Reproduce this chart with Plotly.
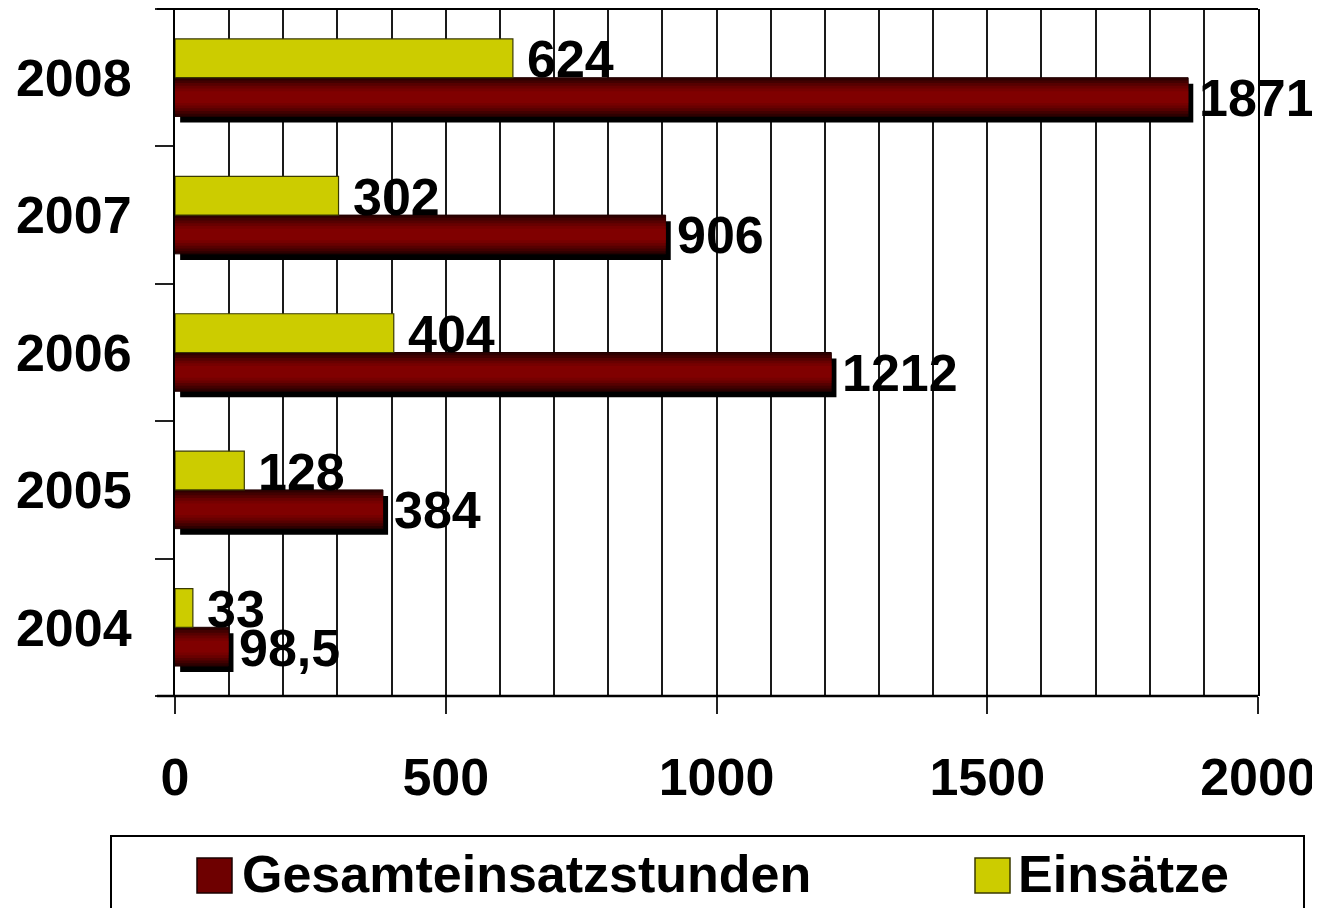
import plotly.graph_objects as go

# ---- data ----
years = ["2004", "2005", "2006", "2007", "2008"]
stunden = [98.5, 384, 1212, 906, 1871]        # Gesamteinsatzstunden
einsaetze = [33, 128, 404, 302, 624]          # Einsätze
series_names = ["Gesamteinsatzstunden", "Einsätze"]
x_ticks = [0, 500, 1000, 1500, 2000]


def de(v):
    s = ("%g" % v)
    return s.replace(".", ",")


FONT = "Liberation Sans, Arial, sans-serif"
RED = "#800000"
YEL = "#cccc00"

# geometry (in category / data units)
BW = 0.282       # bar thickness
SH_Y = 0.044     # shadow vertical offset
SH_X = 9.5       # shadow horizontal offset (data units)

fig = go.Figure()

# shadow of red bars
fig.add_trace(go.Bar(
    y=years, x=stunden, base=[SH_X] * len(years), orientation="h",
    offset=-BW - SH_Y, width=BW, marker=dict(color="#000000", line=dict(width=0)),
    hoverinfo="skip", showlegend=False))

# red bars: layered to imitate the vertical gradient
layers = [
    (1.00, "#2e0000"),
    (0.86, "#420000"),
    (0.72, "#560000"),
    (0.58, "#680000"),
    (0.44, "#760000"),
    (0.30, RED),
]
for i, (f, col) in enumerate(layers):
    w = BW * f
    fig.add_trace(go.Bar(
        y=years, x=stunden, orientation="h",
        offset=-BW / 2 - w / 2, width=w,
        marker=dict(color=col, line=dict(width=1 if i == 0 else 0, color="#200000")),
        hoverinfo="skip", showlegend=False, name=series_names[0]))

# yellow bars
fig.add_trace(go.Bar(
    y=years, x=einsaetze, orientation="h", offset=0, width=BW,
    marker=dict(color=YEL, line=dict(width=1.2, color="#3a3a00")),
    name=series_names[1], showlegend=False))

# value labels
ann = []
PXU = 137.4
LBL = dict(family=FONT, size=52, color="black", weight="bold")
for i, v in enumerate(stunden):
    ann.append(dict(x=v, y=i, xref="x", yref="y", text=de(v), showarrow=False,
                    xanchor="left", yanchor="middle", xshift=9, yshift=-BW / 2 * PXU - 1,
                    font=LBL))
for i, v in enumerate(einsaetze):
    ann.append(dict(x=v, y=i, xref="x", yref="y", text=de(v), showarrow=False,
                    xanchor="left", yanchor="middle", xshift=12, yshift=BW / 2 * PXU - 1,
                    font=LBL))

# manual legend (positions in plot-area fractions)
W, H = 1083.0, 687.0
def px2x(px):
    return (px - 175) / W
def px2y(py):
    return (696 - py) / H

shapes = [
    # top and bottom wall lines extending left past the axis
    dict(type="line", xref="paper", yref="paper", x0=px2x(157), x1=1, y0=1, y1=1,
         line=dict(color="black", width=2)),
    dict(type="line", xref="paper", yref="paper", x0=px2x(157), x1=1, y0=0, y1=0,
         line=dict(color="black", width=2.5)),
    # legend box
    dict(type="rect", xref="paper", yref="paper", x0=px2x(111), x1=px2x(1304),
         y0=px2y(925), y1=px2y(836), line=dict(color="black", width=2), fillcolor="white"),
    dict(type="rect", xref="paper", yref="paper", x0=px2x(197), x1=px2x(232),
         y0=px2y(893), y1=px2y(858), line=dict(color="#1a0000", width=1.5), fillcolor="#6e0000"),
    dict(type="rect", xref="paper", yref="paper", x0=px2x(975), x1=px2x(1010),
         y0=px2y(893), y1=px2y(858), line=dict(color="#3a3a00", width=1.5), fillcolor=YEL),
]
LEG = dict(family=FONT, size=52, color="black", weight="bold")
ann.append(dict(x=px2x(240), y=px2y(874), xref="paper", yref="paper", text=series_names[0],
                showarrow=False, xanchor="left", yanchor="middle", font=LEG))
ann.append(dict(x=px2x(1016), y=px2y(874), xref="paper", yref="paper", text=series_names[1],
                showarrow=False, xanchor="left", yanchor="middle", font=LEG))

# the page adds an 8px body margin, so the figure is shifted up/left by 8px
fig.update_layout(
    width=1312, height=900,
    margin=dict(l=167, r=62, t=1, b=212),
    paper_bgcolor="white", plot_bgcolor="white",
    barmode="overlay",
    showlegend=False,
    annotations=ann,
    shapes=shapes,
    font=dict(family=FONT, color="black"),
    xaxis=dict(
        range=[0, 2000], tickvals=x_ticks, ticktext=[str(t) for t in x_ticks],
        ticks="outside", ticklen=17, tickwidth=1.5, tickcolor="#222",
        showgrid=True, gridcolor="#1a1a1a", gridwidth=1.8,
        minor=dict(dtick=100, showgrid=True, gridcolor="#1a1a1a", gridwidth=1.8, ticks=""),
        showline=False, zeroline=False, automargin=False,
        tickfont=dict(family=FONT, size=52, color="black", weight="bold"),
        ticklabelstandoff=19,
    ),
    yaxis=dict(
        type="category", categoryorder="array", categoryarray=years,
        range=[-0.5, 4.5], automargin=False,
        tickson="boundaries", ticks="outside", ticklen=18, tickwidth=1.5, tickcolor="#222",
        showline=True, linecolor="black", linewidth=2, mirror=True,
        showgrid=False, zeroline=False,
        tickfont=dict(family=FONT, size=52, color="black", weight="bold"),
        ticklabelstandoff=31,
    ),
)

fig.write_html("out.html")
